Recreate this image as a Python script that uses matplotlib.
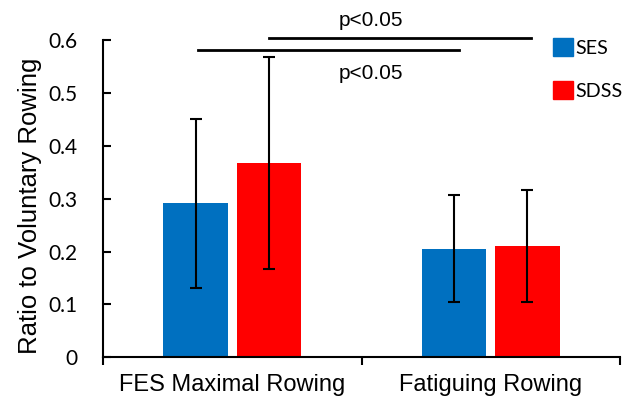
import matplotlib
matplotlib.use("Agg")
import matplotlib.pyplot as plt
import numpy as np
from matplotlib.patches import Patch

categories = ["FES Maximal Rowing", "Fatiguing Rowing"]
series = ["SES", "SDSS"]
ses_vals = [0.291, 0.205]
sdss_vals = [0.367, 0.210]
ses_err = [0.160, 0.101]
sdss_err = [0.200, 0.106]
colors = ["#0070C0", "#FF0000"]
yticks = [0, 0.1, 0.2, 0.3, 0.4, 0.5, 0.6]
ytick_labels = ["0", "0.1", "0.2", "0.3", "0.4", "0.5", "0.6"]
sig_label = "p<0.05"

fig = plt.figure(figsize=(6.33, 3.98), dpi=100)
ax = fig.add_axes([0.1627, 0.1023, 0.8168, 0.7972])

x = np.arange(len(categories))
w = 0.248
off = 0.142
ekw = dict(ecolor="black", elinewidth=1.5, capsize=4.3, capthick=1.5)
ax.bar(x - off, ses_vals, w, color=colors[0], yerr=ses_err, error_kw=ekw, zorder=2)
ax.bar(x + off, sdss_vals, w, color=colors[1], yerr=sdss_err, error_kw=ekw, zorder=2)

ax.set_xlim(-0.5, 1.5)
ax.set_ylim(0, 0.6)
ax.set_yticks(yticks)
ax.set_yticklabels(ytick_labels, fontfamily="Lato", fontsize=15)
ax.tick_params(axis="y", direction="in", length=6, width=1.5, pad=18)
ax.set_xticks([-0.5, 0.5, 1.5])
ax.set_xticklabels([])
ax.set_xticks(x, minor=True)
ax.set_xticklabels(categories, minor=True, fontfamily="Liberation Sans", fontsize=17)
ax.tick_params(axis="x", which="major", direction="out", length=6, width=1.5)
ax.tick_params(axis="x", which="minor", length=0, pad=12)
for s in ["top", "right"]:
    ax.spines[s].set_visible(False)
for s in ["left", "bottom"]:
    ax.spines[s].set_linewidth(1.5)
ax.set_ylabel("Ratio to Voluntary Rowing", fontfamily="Liberation Sans", fontsize=18.5)
ax.yaxis.set_label_coords(-0.118, 0.478)

# significance lines
ax.plot([-0.132, 0.876], [0.581, 0.581], color="black", lw=2, clip_on=False)
ax.plot([0.143, 1.155], [0.604, 0.604], color="black", lw=2, clip_on=False)
ax.text(0.537, 0.636, sig_label, ha="center", va="center", fontfamily="Liberation Sans", fontsize=15)
ax.text(0.537, 0.537, sig_label, ha="center", va="center", fontfamily="Liberation Sans", fontsize=15)

handles = [Patch(facecolor=c, edgecolor=c) for c in colors]
leg = fig.legend(handles, series, loc="upper left", bbox_to_anchor=(553/633, 1 - 38/398),
                 frameon=False, handlelength=1.0, handleheight=1.0, handletextpad=0.15,
                 labelspacing=1.25, borderpad=0, borderaxespad=0,
                 prop=dict(family="Lato", size=14.2))

fig.savefig("out.png", dpi=100)
